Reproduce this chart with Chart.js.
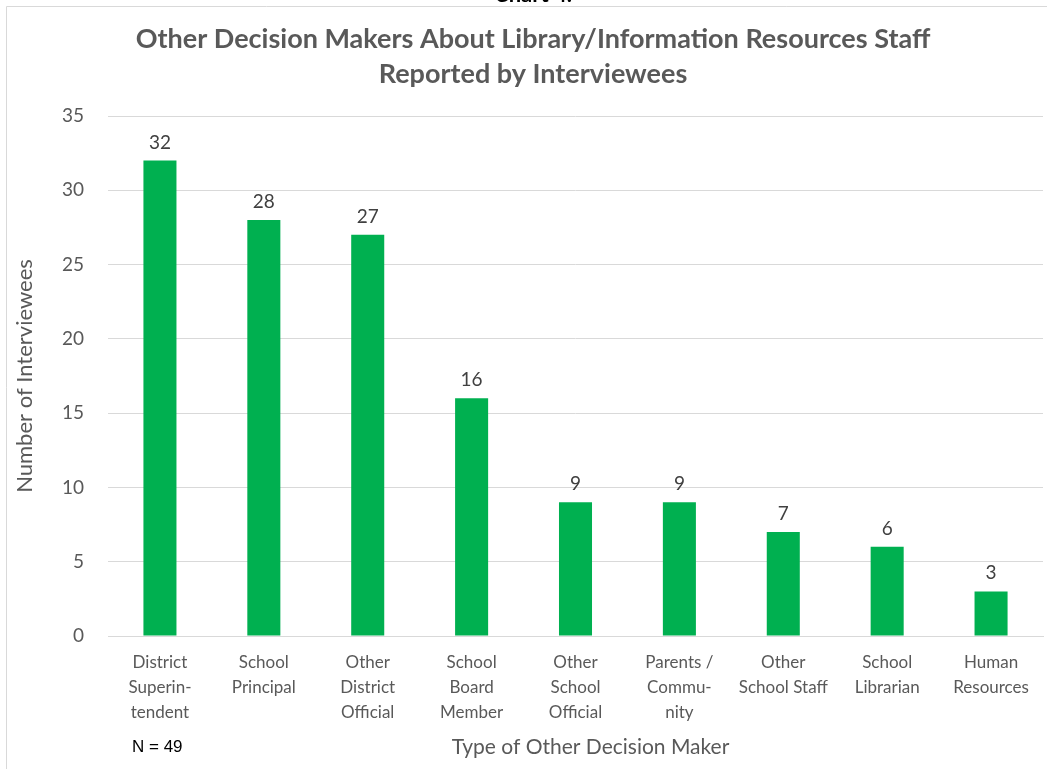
<!DOCTYPE html>
<html>
<head>
<meta charset="utf-8">
<script src="https://cdn.jsdelivr.net/npm/chart.js@4/dist/chart.umd.min.js"></script>
<style>
  html, body { margin: 0; padding: 0; background: #fff; }
  #wrap { width: 1047px; height: 769px; position: relative; }
</style>
</head>
<body>
<div id="wrap"><canvas id="myChart" width="1047" height="769"></canvas></div>
<script>
// données du graphique
const categories = [
  ['District', 'Superin-', 'tendent'],
  ['School', 'Principal'],
  ['Other', 'District', 'Official'],
  ['School', 'Board', 'Member'],
  ['Other', 'School', 'Official'],
  ['Parents /', 'Commu-', 'nity'],
  ['Other', 'School Staff'],
  ['School', 'Librarian'],
  ['Human', 'Resources']
];
const interviewees = [32, 28, 27, 16, 9, 9, 7, 6, 3];
const yTicks = [0, 5, 10, 15, 20, 25, 30, 35];

const titleLines = ['Other Decision Makers About Library/Information Resources Staff', 'Reported by Interviewees'];
const FONT = 'Lato, "Open Sans", sans-serif';
const grey = '#595959';

// plugin maison : cadre, titre, étiquettes de valeurs, notes du bas
const extras = {
  id: 'extras',
  afterDraw(chart) {
    const ctx = chart.ctx;
    const area = chart.chartArea;
    ctx.save();
    // cadre gris
    ctx.strokeStyle = '#d9d9d9';
    ctx.lineWidth = 1;
    ctx.beginPath();
    ctx.moveTo(6.5, 769);
    ctx.lineTo(6.5, 6.5);
    ctx.lineTo(1047, 6.5);
    ctx.stroke();

    // "Chart 4." coupé en haut
    ctx.fillStyle = '#000';
    ctx.font = 'bold 22px ' + FONT;
    ctx.textAlign = 'center';
    ctx.textBaseline = 'alphabetic';
    ctx.fillText('Chart 4.', 533, 2);

    // titre
    ctx.fillStyle = grey;
    ctx.font = 'bold 27px ' + FONT;
    ctx.textBaseline = 'middle';
    ctx.fillText(titleLines[0], 533, 39);
    ctx.fillText(titleLines[1], 533, 74);

    // valeurs au-dessus des barres
    const meta = chart.getDatasetMeta(0);
    ctx.fillStyle = '#404040';
    ctx.font = '19px ' + FONT;
    ctx.textBaseline = 'alphabetic';
    meta.data.forEach(function(bar, i) {
      ctx.fillText(String(interviewees[i]), bar.x, bar.y - 12);
    });

    // titre de l'axe x et N
    ctx.fillStyle = grey;
    ctx.font = '21px ' + FONT;
    ctx.textBaseline = 'middle';
    ctx.fillText('Type of Other Decision Maker', (area.left + area.right) / 2 + 15, 747);
    ctx.fillStyle = '#000';
    ctx.font = '17px "Liberation Sans", Arial, sans-serif';
    ctx.textAlign = 'left';
    ctx.fillText('N = 49', 132, 747);
    ctx.restore();
  }
};

new Chart(document.getElementById('myChart'), {
  type: 'bar',
  data: {
    labels: categories,
    datasets: [{
      data: interviewees,
      backgroundColor: '#00B050',
      barPercentage: 0.318,
      categoryPercentage: 1
    }]
  },
  options: {
    responsive: false,
    animation: false,
    layout: { padding: { top: 116, right: 4, left: 0, bottom: 0 } },
    plugins: {
      legend: { display: false },
      tooltip: { enabled: false },
      title: { display: false }
    },
    scales: {
      x: {
        grid: { display: false },
        border: { display: true, color: '#d9d9d9' },
        ticks: {
          color: grey,
          font: { family: FONT, size: 17, lineHeight: 1.47 },
          padding: 6,
          maxRotation: 0,
          autoSkip: false
        },
        afterFit(scale) { scale.height = 133; }
      },
      y: {
        min: 0,
        max: 35,
        afterBuildTicks(scale) {
          scale.ticks = yTicks.map(v => ({ value: v }));
        },
        grid: { color: '#d9d9d9', drawTicks: false },
        border: { display: false },
        ticks: {
          color: grey,
          font: { family: FONT, size: 19 },
          padding: 24
        },
        title: {
          display: true,
          text: 'Number of Interviewees',
          color: grey,
          font: { family: FONT, size: 22 },
          padding: { top: 12, bottom: 0 }
        },
        afterFit(scale) { scale.width = 108; }
      }
    }
  },
  plugins: [extras]
});
</script>
</body>
</html>
